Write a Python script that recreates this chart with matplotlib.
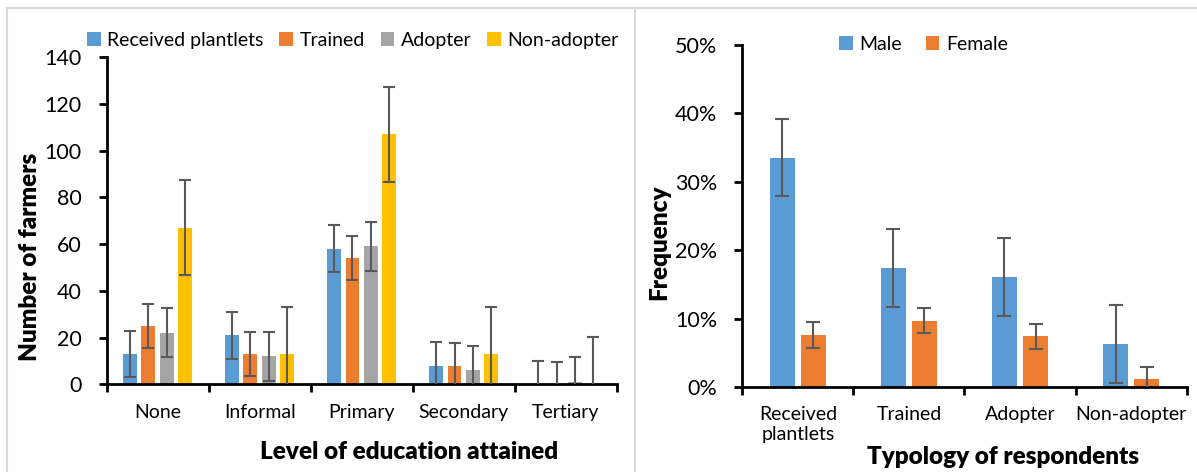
import matplotlib
matplotlib.use("Agg")
import matplotlib.pyplot as plt
import matplotlib.ticker as mticker
import numpy as np

plt.rcParams["font.family"] = ["Lato", "DejaVu Sans"]

# left chart: education level
education = ["None", "Informal", "Primary", "Secondary", "Tertiary"]
edu_series = ["Received plantlets", "Trained", "Adopter", "Non-adopter"]
received = [13, 21, 58, 8, 0]
trained = [25, 13, 54, 8, 0]
adopter = [22, 12, 59, 6, 1]
non_adopter = [67, 13, 107, 13, 0]
edu_err = [10, 9.5, 10.5, 20.3]

# right chart: typology by gender (%)
typology = ["Received\nplantlets", "Trained", "Adopter", "Non-adopter"]
male = [33.5, 17.4, 16.1, 6.3]
female = [7.6, 9.7, 7.4, 1.1]
male_err = 5.65
female_err = 1.85

colors = ["#5B9BD5", "#ED7D31", "#A5A5A5", "#FFC000"]
err_color = "#595959"

fig = plt.figure(figsize=(11.97, 4.72), dpi=100)

# panel borders
border = "#D9D9D9"
fig.add_artist(plt.Line2D([0.0056, 1], [0.983, 0.983], color=border, lw=1.5, transform=fig.transFigure))
fig.add_artist(plt.Line2D([0.0056, 0.0056], [0, 0.983], color=border, lw=1.5, transform=fig.transFigure))
fig.add_artist(plt.Line2D([0.5305, 0.5305], [0, 0.983], color=border, lw=1.5, transform=fig.transFigure))


def style_axis(ax, ncat):
    for s in ["top", "right"]:
        ax.spines[s].set_visible(False)
    for s in ["left", "bottom"]:
        ax.spines[s].set_linewidth(2)
    ax.set_xlim(-0.5, ncat - 0.5)
    ax.set_xticks(np.arange(-0.5, ncat, 1))
    ax.set_xticklabels([])
    ax.tick_params(axis="x", which="major", length=6, width=2, direction="out")
    ax.tick_params(axis="y", which="major", length=6, width=2, direction="out", labelsize=15.5, pad=12)
    ax.set_xticks(np.arange(ncat), minor=True)
    ax.tick_params(axis="x", which="minor", length=0, labelsize=14, pad=14)


# ---- left chart ----
ax1 = fig.add_axes([0.0891, 0.1858, 0.4261, 0.6928])
x = np.arange(len(education))
series = [received, trained, adopter, non_adopter]
for i, vals in enumerate(series):
    pos = x + (i - 1.5) * 0.18
    ax1.bar(pos, vals, 0.137, color=colors[i], label=edu_series[i], zorder=2)
    ax1.errorbar(pos, vals, yerr=edu_err[i], fmt="none", ecolor=err_color,
                 elinewidth=1.5, capsize=4, capthick=1.5, zorder=3)
ax1.set_ylim(0, 140)
ax1.set_yticks(np.arange(0, 141, 20))
style_axis(ax1, len(education))
ax1.set_xticklabels(education, minor=True)
ax1.set_ylabel("Number of farmers", fontsize=17.5, fontweight="heavy", va="center")
ax1.yaxis.set_label_coords(-0.150, 0.389)
fig.text(409 / 1197, 1 - 452 / 472, "Level of education attained", fontsize=17.5,
         fontweight="heavy", ha="center", va="center")
fig.legend(*ax1.get_legend_handles_labels(), loc="center left",
           bbox_to_anchor=(87 / 1197, 1 - 40.5 / 472), ncol=4, frameon=False,
           fontsize=14, handlelength=0.7, handleheight=0.7, handletextpad=0.35,
           columnspacing=0.8, borderaxespad=0, borderpad=0)

# ---- right chart ----
ax2 = fig.add_axes([0.6201, 0.1801, 0.3713, 0.7246])
x2 = np.arange(len(typology))
ax2.bar(x2 - 0.14, male, 0.225, color=colors[0], label="Male", zorder=2)
ax2.bar(x2 + 0.14, female, 0.225, color=colors[1], label="Female", zorder=2)
ax2.errorbar(x2 - 0.14, male, yerr=male_err, fmt="none", ecolor=err_color,
             elinewidth=1.5, capsize=5, capthick=1.5, zorder=3)
ax2.errorbar(x2 + 0.14, female, yerr=female_err, fmt="none", ecolor=err_color,
             elinewidth=1.5, capsize=5, capthick=1.5, zorder=3)
ax2.set_ylim(0, 50)
ax2.set_yticks(np.arange(0, 51, 10))
ax2.yaxis.set_major_formatter(mticker.FuncFormatter(lambda v, p: f"{v:.0f}%"))
style_axis(ax2, len(typology))
ax2.set_xticklabels(typology, minor=True)
ax2.set_ylabel("Frequency", fontsize=17.5, fontweight="heavy", va="center")
ax2.yaxis.set_label_coords(-0.187, 0.424)
fig.text(1003 / 1197, 1 - 457 / 472, "Typology of respondents", fontsize=17.5,
         fontweight="heavy", ha="center", va="center")
fig.legend(*ax2.get_legend_handles_labels(), loc="center",
           bbox_to_anchor=(923.5 / 1197, 1 - 44 / 472), ncol=2, frameon=False,
           fontsize=14, handlelength=0.7, handleheight=0.7, handletextpad=0.35,
           columnspacing=1.2, borderaxespad=0, borderpad=0)

fig.savefig("out.png", dpi=100)
